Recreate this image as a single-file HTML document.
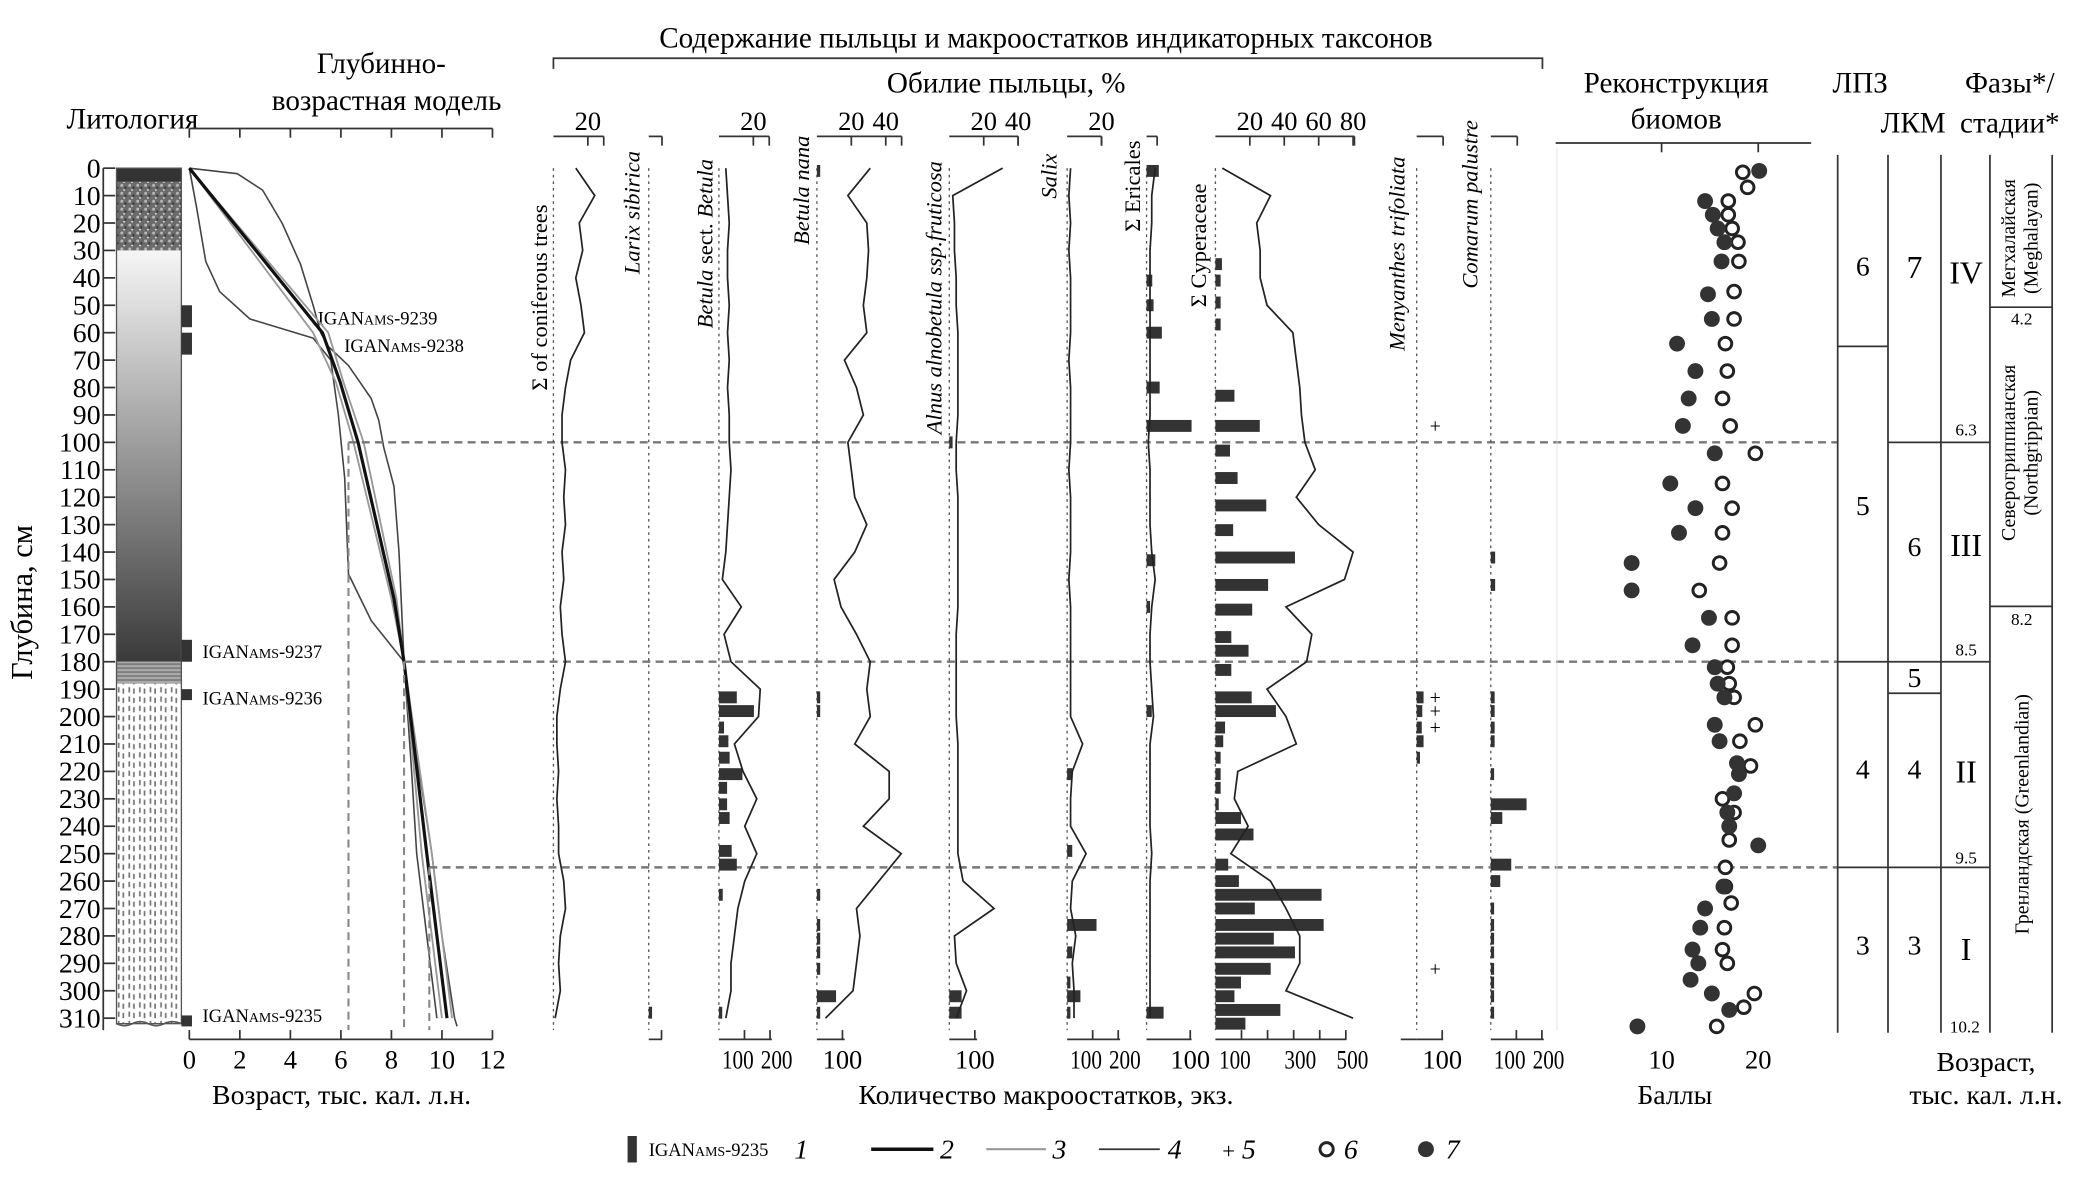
<!DOCTYPE html>
<html><head><meta charset="utf-8">
<style>
html,body{margin:0;padding:0;background:#fff;}
svg{display:block;font-family:"Liberation Serif","Noto Serif CJK SC",serif;}
</style></head>
<body>
<svg id="chart" xmlns="http://www.w3.org/2000/svg" width="2076" height="1187" viewBox="0 0 1568 896.5">
<defs>
<linearGradient id="gradSilt" x1="0" y1="0" x2="0" y2="1">
<stop offset="0" stop-color="#f6f6f6"/><stop offset="1" stop-color="#3a3a3a"/>
</linearGradient>
<pattern id="speck" width="6" height="6" patternUnits="userSpaceOnUse">
<rect width="6" height="6" fill="#6a6a6a"/><rect x="1" y="1" width="2" height="2" fill="#bbb"/><rect x="4" y="3" width="1.5" height="1.5" fill="#333"/><rect x="3" y="5" width="1.5" height="1" fill="#ddd"/>
</pattern>
<pattern id="dashes" width="8" height="7" patternUnits="userSpaceOnUse">
<rect width="8" height="7" fill="#fff"/><rect x="1" y="1" width="1.3" height="4" fill="#777"/><rect x="4.5" y="2" width="1.3" height="4" fill="#777"/>
</pattern>
<pattern id="stripes" width="4" height="3" patternUnits="userSpaceOnUse">
<rect width="4" height="3" fill="#aaa"/><rect y="0" width="4" height="1.2" fill="#777"/>
</pattern>
</defs>
<g id="static"></g>
</svg>
<script>
// ---------- DATA ----------
const depths10 = [0,10,20,30,40,50,60,70,80,90,100,110,120,130,140,150,160,170,180,190,200,210,220,230,240,250,260,270,280,290,300,310];
const coniferPct = [13,24,15,17,13,16,18,10,7,5,5,7,6,7,5,6,4,5,7,4,2,2,3,2,3,3,6,7,4,3,4,1];
const betulaPct = [4,5,6,5,5,6,5,6,5,6,6,7,6,5,4,2,13,3,7,24,23,9,14,22,15,22,15,11,9,7,7,4];
const nanaPct = [31,18,29,30,29,27,29,16,23,27,18,20,22,29,22,10,14,23,31,29,31,22,42,42,27,49,36,23,25,23,21,5];
const alnusPct = [31,2,3,3,4,4,5,5,5,5,4,4,5,5,5,5,5,4,4,4,4,5,5,5,5,5,8,26,3,4,10,4];
const salixPct = [2,1,2,1,2,2,2,1,2,2,2,1,2,2,2,1,2,2,2,2,2,9,3,2,2,11,3,2,5,3,4,4];
const ericPct = [5,3,3,2,2,2,2,2,2,2,1,2,2,2,3,5,3,2,2,3,4,2,2,2,2,3,2,2,2,2,2,2];
const cyperPct = [4,32,24,26,26,30,45,47,49,50,52,58,47,60,80,75,41,56,53,30,41,47,13,11,19,9,32,41,49,49,41,80];

const cyperBarD = [35,41,49,57,83,94,103,113,123,132,142,152,161,171,176,183,193,198,204,209,215,221,226,232,237,243,254,260,265,270,276,281,286,292,297,302,307,312];
const cyperBarV = [25,20,20,20,73,170,56,85,195,68,305,202,141,61,127,61,139,232,37,30,20,20,20,8,98,146,49,90,407,151,415,224,305,212,98,73,249,115];
const ericBarD = [1,41,50,60,80,94,143,160,198,308];
const ericBarV = [28,13,16,35,30,103,20,8,12,39];
const betulaBarD = [193,198,204,209,215,221,226,232,237,249,254,265,308];
const betulaBarV = [70,137,20,37,42,92,32,32,42,50,70,15,12];
const nanaBarD = [1,193,198,265,276,281,286,292,302,308];
const nanaBarV = [8,10,8,8,10,10,10,10,75,10];
const alnusBarD = [100,302,308];
const alnusBarV = [6,48,48];
const salixBarD = [221,249,276,286,297,302,308];
const salixBarV = [20,20,115,20,10,52,12];
const menyBarD = [193,198,204,209,215];
const menyBarV = [27,22,20,27,12];
const menyPlusD = [94,193,198,204,292];
const comarBarD = [142,152,193,198,204,209,221,232,237,254,260,270,276,281,286,292,297,302,308];
const comarBarV = [17,17,15,15,15,15,10,140,45,80,37,12,12,12,12,12,12,12,12];

const openD = [1.5,7,12,17,22,27,34,45,55,64,74,84,94,104,115,124,133,144,154,164,174,182,188,193,203,209,218,230,235,245,255,262,268,277,285,290,301,306,313];
const openS = [18.4,18.9,16.9,16.9,17.3,17.9,18.0,17.5,17.5,16.6,16.8,16.3,17.1,19.7,16.3,17.3,16.3,16.0,13.9,17.3,17.3,16.8,17.0,17.5,19.7,18.1,19.2,16.3,17.5,17.0,16.6,16.6,17.2,16.5,16.3,16.8,19.6,18.5,15.7];
const fillD = [1,12,17,22,27,34,46,55,64,74,84,94,104,115,124,133,144,154,164,174,182,188,193,203,209,217,221,228,235,240,247,262,270,277,285,290,296,301,307,313];
const fillS = [20.1,14.5,15.3,15.8,16.5,16.2,14.8,15.2,11.6,13.5,12.8,12.2,15.5,10.9,13.5,11.8,6.9,6.9,14.9,13.2,15.5,15.8,16.5,15.5,16.0,17.8,18.0,17.5,16.8,17.0,20.0,16.4,14.5,14.0,13.2,13.8,13.0,15.2,17.0,7.5];

const ageDepth = [0,60,78,100,157,180,250,310];
const ageMain = [0,5.27,5.97,6.68,8.1,8.5,9.4,10.2];
const ageGreyA = [0,4.9,5.8,6.5,8.0,8.5,9.2,10.0];
const ageGreyB = [0,5.5,6.1,6.9,8.2,8.5,9.6,10.4];
const envDepth1 = [0,2,8,20,35,50,60,65,72,84,92,102,116,140,180,220,250,280,310,313];
const envAge1 = [0,1.9,2.9,3.67,4.4,4.9,5.2,5.5,6.3,7.2,7.5,7.7,8.1,8.3,8.5,9.1,9.6,10.0,10.5,10.6];
const envDepth2 = [0,15,34,45,55,62,70,90,113,148,165,180,220,250,280,310];
const envAge2 = [0,0.3,0.65,1.2,2.4,4.9,5.6,5.9,6.15,6.3,7.2,8.5,8.8,9.0,9.4,9.8];
const ageTicks = [0,2,4,6,8,10,12];
const depthTicks = depths10;
const biomeTicks = [10,20];

// ---------- HELPERS ----------
const NS='http://www.w3.org/2000/svg';
const root=document.getElementById('static');
function yD(d){return 127+d*2.071;}
function xAge(a){return 143+a*19.08;}
function xBiome(s){return 1182+s*7.3;}
function mk(tag,attrs,parent){const e=document.createElementNS(NS,tag);for(const k in attrs)e.setAttribute(k,attrs[k]);(parent||root).appendChild(e);return e;}
function txt(x,y,s,size,extra){const t=mk('text',Object.assign({x:x,y:y,'font-size':size},extra||{}));t.textContent=s;return t;}
function line(x1,y1,x2,y2,sw,col,dash){const a={x1:x1,y1:y1,x2:x2,y2:y2,stroke:col||'#222','stroke-width':sw||1};if(dash)a['stroke-dasharray']=dash;return mk('line',a);}

// ---------- HEADERS ----------
let t;
t=txt(790,36,'Содержание пыльцы и макроостатков индикаторных таксонов',22,{'text-anchor':'middle'});

mk('path',{d:'M418 52 V44 H1165 V52',fill:'none',stroke:'#333','stroke-width':1.3});
t=txt(760,70,'Обилие пыльцы, %',22,{'text-anchor':'middle'});

t=txt(100,97,'Литология',22,{'text-anchor':'middle'});

t=txt(288,55,'Глубинно-',22,{'text-anchor':'middle'});

txt(292,83,'возрастная модель',22,{'text-anchor':'middle'});
t=txt(1266,70,'Реконструкция',22,{'text-anchor':'middle'});

txt(1266,97,'биомов',22,{'text-anchor':'middle'});
t=txt(1405,70,'ЛПЗ',22,{'text-anchor':'middle'});

t=txt(1445,100,'ЛКМ',22,{'text-anchor':'middle'});

t=txt(1518,70,'Фазы*/',22,{'text-anchor':'middle'});

txt(1518,100,'стадии*',22,{'text-anchor':'middle'});

// ---------- DEPTH AXIS ----------
line(78,127,78,778,1.3,'#333');
depthTicks.forEach(d=>{line(78,yD(d),87,yD(d),1.3,'#333');
 const l=txt(76,yD(d)+7,String(d),21,{'text-anchor':'end'});
 });
t=txt(0,0,'Глубина, см',23,{'text-anchor':'middle',transform:'translate(24,455) rotate(-90)'});


// ---------- LITHOLOGY ----------
const lg=mk('g',{});
mk('rect',{x:88,y:yD(0),width:49,height:yD(5)-yD(0),fill:'#333'},lg);
mk('rect',{x:88,y:yD(5),width:49,height:yD(30)-yD(5),fill:'url(#speck)'},lg);
mk('rect',{x:88,y:yD(30),width:49,height:yD(180)-yD(30),fill:'url(#gradSilt)'},lg);
mk('rect',{x:88,y:yD(180),width:49,height:yD(188)-yD(180),fill:'url(#stripes)'},lg);
mk('rect',{x:88,y:yD(188),width:49,height:yD(312)-yD(188),fill:'url(#dashes)'},lg);
mk('rect',{x:88,y:yD(0),width:49,height:yD(312)-yD(0),fill:'none',stroke:'#555','stroke-width':1},lg);
mk('path',{d:`M88 ${yD(312)} q6 3 12 0 t12 0 t12 0 t13 0`,fill:'none',stroke:'#555','stroke-width':1.2},lg);
[[50,58],[60,68],[172,180],[190,194],[309,313]].forEach(r=>{
 const b=mk('rect',{x:137,y:yD(r[0]),width:8,height:yD(r[1])-yD(r[0]),fill:'#333'});
 });
function igan(x,y,num){const g=mk('text',{x:x,y:y,'font-size':14});
 const a=mk('tspan',{},g);a.textContent='IGAN';const b=mk('tspan',{'font-size':10.5},g);b.textContent='AMS';const c=mk('tspan',{},g);c.textContent='-'+num;}
igan(240,245,'9239');igan(260,266,'9238');igan(153,497,'9237');igan(153,532,'9236');igan(153,772,'9235');

// ---------- AGE AXIS ----------
line(143,97,372,97,1.3,'#333');line(143,785,372,785,1.3,'#333');
ageTicks.forEach(a=>{line(xAge(a),97,xAge(a),104,1.3,'#333');line(xAge(a),785,xAge(a),778,1.3,'#333');
 const l=txt(xAge(a),807,String(a),20,{'text-anchor':'middle'});});
t=txt(258,834,'Возраст, тыс. кал. л.н.',21,{'text-anchor':'middle'});

function ageLine(ages,ds,col,w,name){const p=ages.map((a,i)=>xAge(a)+','+yD(ds[i])).join(' ');
 const e=mk('polyline',{points:p,fill:'none',stroke:col,'stroke-width':w,'stroke-linejoin':'round'});}
ageLine(envAge1,envDepth1,'#444',1.2,'age-envelope-upper');
ageLine(envAge2,envDepth2,'#444',1.2,'age-envelope-lower');
ageLine(ageGreyA,ageDepth,'#999',1.4,'age-model-alt-a');
ageLine(ageGreyB,ageDepth,'#999',1.4,'age-model-alt-b');
ageLine(ageMain,ageDepth,'#111',2.4,'age-model-median');

// dashed boundary lines
[[100,6.3],[180,8.5],[255,9.5]].forEach(b=>{
 const x=xAge(b[1]);line(x,yD(b[0]),1388,yD(b[0]),1.8,'#777','6,4');line(x,yD(b[0]),x,778,1.6,'#888','6,4');});

// ---------- POLLEN COLUMNS ----------
const PS=1.3, CS=0.193;
function column(cfg){
 const x0=cfg.x0;
 line(x0,127,x0,778,1,'#555','2,3');
 const end=x0+cfg.topEnd;line(x0,103,end,103,1.3,'#333');line(end,103,end,110,1.3,'#333');
 (cfg.topTicks||[]).forEach(v=>{const tx=x0+v*PS;line(tx,103,tx,110,1.3,'#333');
  const l=txt(tx,98,String(v),20,{'text-anchor':'middle'});});
 const bs=cfg.cs||CS;
 const bend=x0+cfg.botEnd;line(x0,785,bend,785,1.3,'#333');
 cfg.botTicks.forEach(v=>{const tx=x0+v*bs;line(tx,785,tx,778,1.3,'#333');});
 const multi=cfg.botLabels.length>1;
 cfg.botLabels.forEach((v,i)=>{let off=0;if(multi&&bs<0.25){off=(i===0?-5:5);}
  const a={'text-anchor':'middle'};if(multi){a.textLength=24;a.lengthAdjust='spacingAndGlyphs';}
  const l=txt(x0+v*bs+off,807,String(v),20,a);});
 const n=txt(0,0,cfg.name,17,{'font-style':cfg.italic?'italic':'normal',transform:`translate(${cfg.lx},${cfg.ly}) rotate(-90)`});
 
 if(cfg.sub){n.textContent='';const a=mk('tspan',{},n);a.textContent=cfg.sub[0];const b=mk('tspan',{'font-style':'normal'},n);b.textContent=cfg.sub[1];const c=mk('tspan',{},n);c.textContent=cfg.sub[2];}
 if(cfg.bd){cfg.bd.forEach((d,i)=>{const r=mk('rect',{x:x0,y:yD(d)-4.5,width:Math.max(2.5,cfg.bv[i]*bs),height:9,fill:'#333'});
  });}
 if(cfg.pct){const p=cfg.pct.map((v,i)=>(x0+v*PS)+','+yD(depths10[i])).join(' ');
  const e=mk('polyline',{points:p,fill:'none',stroke:'#222','stroke-width':1.3});}
}
column({x0:418,pct:coniferPct,topEnd:38,topTicks:[20],botEnd:0,botTicks:[],botLabels:[],name:'Σ of coniferous trees',lx:413,ly:295,italic:false});
column({x0:490,topEnd:10,topTicks:[],botEnd:10,botTicks:[50],botLabels:[],name:'Larix sibirica',lx:483,ly:207,italic:true,bd:[308],bv:[12]});
column({x0:543,pct:betulaPct,bd:betulaBarD,bv:betulaBarV,topEnd:38,topTicks:[20],botEnd:40,botTicks:[100,200],botLabels:[100,200],name:'',sub:['Betula',' sect. ','Betula'],lx:538,ly:248,italic:true});
column({x0:617,pct:nanaPct,bd:nanaBarD,bv:nanaBarV,topEnd:64,topTicks:[20,40],botEnd:21,botTicks:[100],botLabels:[100],name:'Betula nana',lx:611,ly:185,italic:true});
column({x0:717,pct:alnusPct,bd:alnusBarD,bv:alnusBarV,topEnd:52,topTicks:[20,40],botEnd:21,botTicks:[100],botLabels:[100],name:'Alnus alnobetula ssp.fruticosa',lx:711,ly:328,italic:true});
column({x0:806,pct:salixPct,bd:salixBarD,bv:salixBarV,topEnd:26,topTicks:[20],botEnd:40,botTicks:[100,200],botLabels:[100,200],name:'Salix',lx:798,ly:150,italic:true});
column({x0:866,pct:ericPct,bd:ericBarD,bv:ericBarV,cs:0.33,topEnd:8,topTicks:[],botEnd:34,botTicks:[100],botLabels:[100],name:'Σ Ericales',lx:861,ly:175,italic:false});
column({x0:918,pct:cyperPct,bd:cyperBarD,bv:cyperBarV,cs:0.197,topEnd:105,topTicks:[20,40,60,80],botEnd:99,botTicks:[100,200,300,400,500],botLabels:[100,300,500],name:'Σ Cyperaceae',lx:911,ly:232,italic:false});
column({x0:1070,bd:menyBarD,bv:menyBarV,topEnd:20,topTicks:[],botEnd:20,botTicks:[100],botLabels:[100],name:'Menyanthes trifoliata',lx:1061,ly:265,italic:true});
column({x0:1126,bd:comarBarD,bv:comarBarV,topEnd:20,topTicks:[],botEnd:40,botTicks:[100,200],botLabels:[100,200],name:'Comarum palustre',lx:1116,ly:218,italic:true});
line(1058,785,1070,785,1.3,'#333');
menyPlusD.forEach(d=>{const p=txt(1084,yD(d)+5,'+',15,{'text-anchor':'middle'});});
t=txt(790,834,'Количество макроостатков, экз.',21,{'text-anchor':'middle'});

// ---------- BIOMES ----------
line(1175,108,1368,108,1.3,'#333');
line(1176,112,1176,778,0.6,'#ddd');
biomeTicks.forEach(v=>{line(xBiome(v),108,xBiome(v),115,1.3,'#333');
 const l=txt(xBiome(v),807,String(v),20,{'text-anchor':'middle'});});
t=txt(1265,834,'Баллы',21,{'text-anchor':'middle'});
openD.forEach((d,i)=>{const c=mk('circle',{cx:xBiome(openS[i]),cy:yD(d),r:4.8,fill:'#fff',stroke:'#222','stroke-width':2.2});
 });
fillD.forEach((d,i)=>{const c=mk('circle',{cx:xBiome(fillS[i]),cy:yD(d),r:6,fill:'#333'});
 });

// ---------- ZONES ----------
[1388,1426,1466,1503,1550].forEach(x=>line(x,117,x,780,1.3,'#333'));
line(1388,yD(65),1426,yD(65),1.3,'#333');
line(1426,yD(100),1503,yD(100),1.3,'#333');
line(1388,yD(180),1503,yD(180),1.3,'#333');
line(1426,yD(191.5),1466,yD(191.5),1.3,'#333');
line(1388,yD(255),1503,yD(255),1.3,'#333');
line(1503,232,1550,232,1.3,'#333');
line(1503,458,1550,458,1.3,'#333');
function zl(x,y,s,sz,name){const l=txt(x,y,s,sz||21,{'text-anchor':'middle'});}
zl(1407,208,'6',21,'lpz-6');zl(1407,389,'5',21,'lpz-5');zl(1407,588,'4',21,'lpz-4');zl(1407,721,'3',21,'lpz-3');
zl(1446,210,'7',24,'lkm-7');zl(1446,420,'6',21,'lkm-6');zl(1446,519,'5',21,'lkm-5');zl(1446,588,'4',21,'lkm-4');zl(1446,721,'3',21,'lkm-3');
zl(1485,214,'IV',24,'phase-iv');zl(1485,420,'III',24,'phase-iii');zl(1485,591,'II',24,'phase-ii');zl(1485,725,'I',24,'phase-i');
zl(1485,329,'6.3',13,'boundary-6-3');zl(1485,495,'8.5',13,'boundary-8-5');zl(1485,652,'9.5',13,'boundary-9-5');zl(1484,780,'10.2',13,'boundary-10-2');
zl(1527,245,'4.2',13,'boundary-4-2');zl(1527,472,'8.2',13,'boundary-8-2');
function vt(x,y,s,name){const l=txt(0,0,s,15,{'text-anchor':'middle',transform:`translate(${x},${y}) rotate(-90)`});}
vt(1522,180,'Мегхалайская','stage-meghalayan');vt(1539,180,'(Meghalayan)','stage-meghalayan-en');
vt(1522,342,'Северогриппианская','stage-northgrippian');vt(1539,342,'(Northgrippian)','stage-northgrippian-en');
vt(1532,615,'Гренландская (Greenlandian)','stage-greenlandian');
zl(1500,809,'Возраст,',21,'zone-age-title');zl(1500,834,'тыс. кал. л.н.',21,'zone-age-title-2');

// ---------- LEGEND ----------
const lgd=mk('g',{});
mk('rect',{x:474,y:858,width:7,height:20,fill:'#333'},lgd);
const it=mk('text',{x:490,y:873,'font-size':14},lgd);const a1=mk('tspan',{},it);a1.textContent='IGAN';const a2=mk('tspan',{'font-size':10.5},it);a2.textContent='AMS';const a3=mk('tspan',{},it);a3.textContent='-9235';
function li(x,s){const l=txt(x,875,s,21,{'font-style':'italic'});}
li(600,'1');
line(658,868,705,868,2.6,'#111');li(710,'2');
line(745,868,790,868,1.6,'#999');li(795,'3');
line(830,868,876,868,1.3,'#333');li(882,'4');
txt(928,875,'+',17,{'text-anchor':'middle'});li(938,'5');
mk('circle',{cx:1002,cy:868,r:5,fill:'#fff',stroke:'#222','stroke-width':2.2},lgd);li(1015,'6');
mk('circle',{cx:1077,cy:868,r:6,fill:'#333'},lgd);li(1092,'7');
</script>
</body></html>
